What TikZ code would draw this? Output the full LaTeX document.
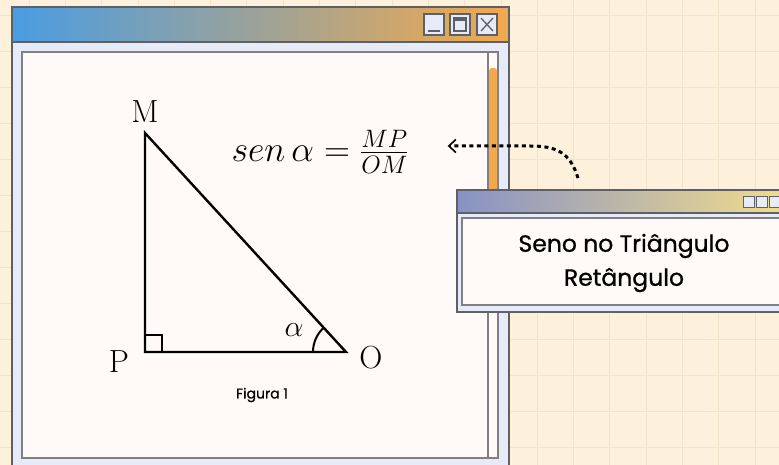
\documentclass[tikz,border=0pt]{standalone}
\usepackage{fix-cm}
\usepackage{amsmath}
\usepackage{fontspec}
\newfontfamily\popfont{Poppins}[FakeBold=0.9]
\usetikzlibrary{arrows.meta,calc,positioning}
\definecolor{paperbg}{HTML}{FDF1DC}
\definecolor{gridline}{HTML}{F3E4C9}
\definecolor{winblue}{HTML}{4A9CE2}
\definecolor{winorange}{HTML}{F2A94C}
\definecolor{winbody}{HTML}{E7EBF7}
\definecolor{winframe}{HTML}{5E6068}
\definecolor{panelwhite}{HTML}{FFFAF8}
\definecolor{smallblue}{HTML}{8792C6}
\definecolor{smallyellow}{HTML}{F3DD8A}

\begin{document}
\begin{tikzpicture}[x=1pt,y=-1pt,
  frame/.style={draw=winframe,line width=1.3pt},
  btn/.style={frame,fill=winbody},
  ptlabel/.style={font=\fontsize{32}{34}\selectfont,inner sep=0pt}]
  \useasboundingbox (0,0) rectangle (779,465);
  % paper with grid
  \fill[paperbg] (0,0) rectangle (779,465);
  \foreach \gx in {29,65.3,...,779}{\draw[gridline,line width=0.8pt] (\gx,0) -- (\gx,465);}
  \foreach \gy in {15,51,...,465}{\draw[gridline,line width=0.8pt] (0,\gy) -- (779,\gy);}
  % main window
  \draw[frame,fill=winbody] (12,7) rectangle (509,472);
  \shade[left color=winblue,right color=winorange] (12,7) rectangle (509,42);
  \draw[frame] (12,7) rectangle (509,42);
  \foreach \bx in {424,450,477}{\draw[btn] (\bx,14) rectangle ++(20,21);}
  \draw[winframe,line width=1.5pt] (428,31) -- (440,31);
  \draw[winframe,line width=1.3pt] (454,18) rectangle (466,31);
  \draw[winframe,line width=2.5pt] (454,19.5) -- (466,19.5);
  \draw[winframe,line width=1.3pt] (481,18) -- (493,31) (493,18) -- (481,31);
  \draw[draw=winframe!80,line width=1.2pt,fill=panelwhite] (22,52) rectangle (498,458);
  \draw[draw=winframe!80,line width=1.2pt] (488,52) -- (488,458);
  \fill[winorange,rounded corners=3pt] (489,68) rectangle (497,200);
  % triangle
  \coordinate (M) at (145,133);
  \coordinate (P) at (145,352);
  \coordinate (O) at (346,352);
  \draw[line width=2.4pt,line join=miter] (M) -- (P) -- (O) -- cycle;
  \draw[line width=2pt] ($(P)+(0,-17)$) -- ++(17,0) -- ++(0,17);
  \draw[line width=2pt] ($(O)+(-33,0)$) arc[start angle=180,end angle=227.4,radius=33];
  \node[ptlabel] (labM) at (145,112) {M};
  \node[ptlabel] (labP) at (119,362) {P};
  \node[ptlabel] (labO) at (371,358) {O};
  \node[font=\fontsize{30}{32}\selectfont,inner sep=0pt] (alpha) at (294,330) {$\alpha$};
  \node[font=\fontsize{36}{40}\selectfont,inner sep=0pt] (formula) at (320,152) {$sen\,\alpha = \frac{MP}{OM}$};
  \node[font=\popfont\fontsize{14}{16}\selectfont] (caption) at (262,395) {Figura 1};
  % small window
  \draw[frame,fill=winbody] (457,190) rectangle (790,312);
  \shade[left color=smallblue,right color=smallyellow] (457,190) rectangle (790,213);
  \draw[frame] (457,190) rectangle (790,213);
  \foreach \bx in {743,756,769}{\draw[winframe,line width=0.8pt,fill=winbody] (\bx,196) rectangle ++(11,11);}
  \draw[draw=winframe!80,line width=1.2pt,fill=panelwhite] (462,218) rectangle (790,305);
  \node[font=\popfont\fontsize{23.5}{34}\selectfont,align=center] (title) at (624,263) {Seno no Triângulo\\Retângulo};
  % pointer back to the formula
  \coordinate (tail) at (578,178);
  \draw[line width=3pt,dash pattern=on 4pt off 3.5pt,
    -{Straight Barb[length=7pt,width=13pt,line width=1.6pt]}]
    (tail) .. controls (570,152) and (556,146) .. (530,146) -- ([xshift=39pt,yshift=6pt]formula.east);
\end{tikzpicture}
\end{document}
